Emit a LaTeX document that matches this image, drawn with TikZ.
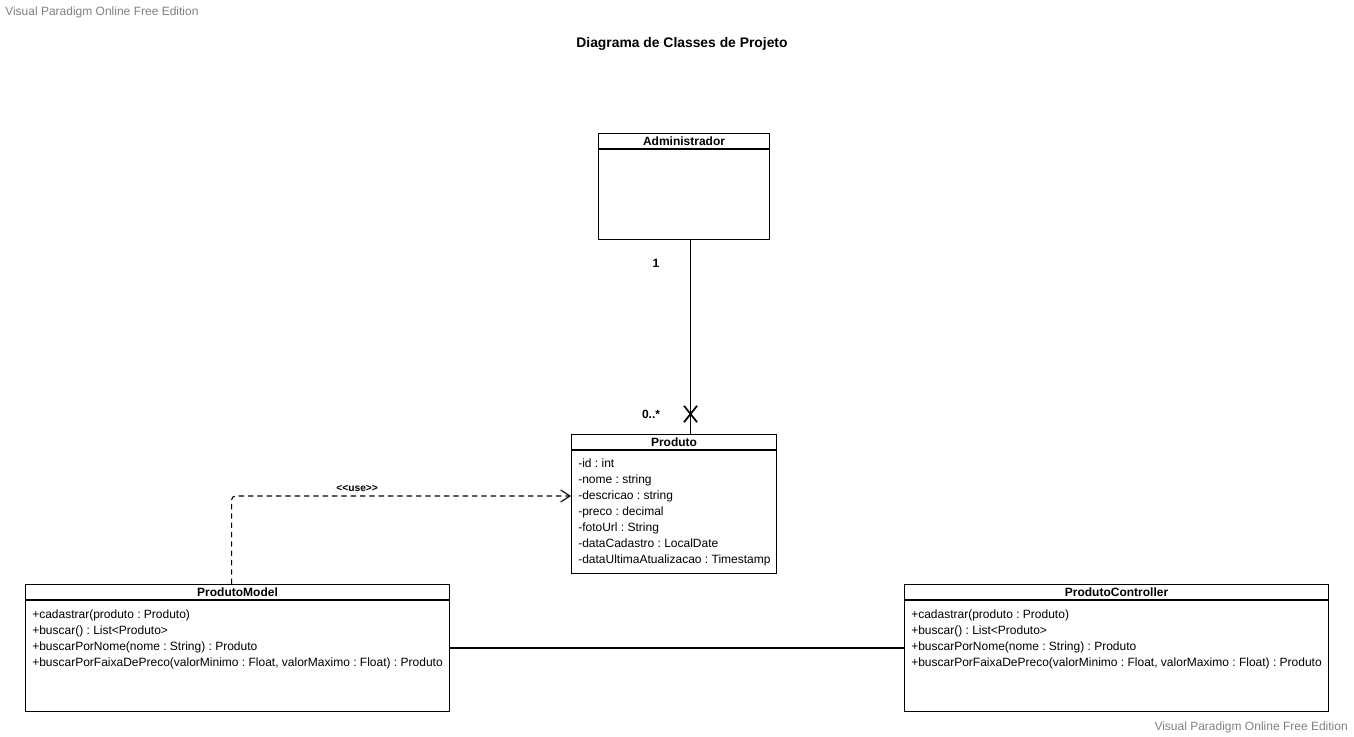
\documentclass[tikz,border=0pt]{standalone}
\usepackage{fontspec}
\setmainfont{Liberation Sans}
\usetikzlibrary{positioning,arrows.meta,shapes.misc}
\usepackage{xcolor}
\definecolor{marca}{RGB}{128,128,128}
\frenchspacing

\begin{document}
\begin{tikzpicture}
[x=0.75pt, y=-0.75pt,
% The classe style is used to draw the box of each class
classe/.style={draw, line width=0.8pt, inner sep=0pt, anchor=north west},
% The nome style is used to write the class name in the header
nome/.style={font=\bfseries\fontsize{9}{10}\selectfont, inner sep=0pt},
% The membros style is used to list attributes and methods
membros/.style={font=\frenchspacing\fontsize{9}{12}\selectfont, align=left, anchor=north west, inner sep=0pt},
mult/.style={font=\bfseries\fontsize{9}{10}\selectfont, inner sep=0pt},
marcadagua/.style={font=\fontsize{9}{11}\selectfont, text=marca, inner sep=0pt},
assoc/.style={line width=0.8pt},
dep/.style={line width=0.8pt, dash pattern=on 4pt off 3pt, rounded corners=3pt, -{Straight Barb[length=7pt, width=9pt]}}
]
\useasboundingbox (0,0) rectangle (1354,737);

% Titles
\node [marcadagua, anchor=west] (marca1) at (5,12) {Visual Paradigm Online Free Edition};
\node [marcadagua, anchor=east] (marca2) at (1348,727) {Visual Paradigm Online Free Edition};
\node [font=\bfseries\fontsize{10.4}{12}\selectfont] (titulo) at (682,44) {Diagrama de Classes de Projeto};

% Draw classes
\node [classe, minimum width=128.25pt, minimum height=79.5pt] (adm) at (598,133) {};
\node [nome] (admnome) at ([yshift=-6pt]adm.north) {Administrador};
\draw [line width=0.8pt] ([yshift=-12pt]adm.north west) -- ([yshift=-12pt]adm.north east);

\node [classe, minimum width=153.75pt, minimum height=104.25pt] (prod) at (571,434) {};
\node [nome] (prodnome) at ([yshift=-6pt]prod.north) {Produto};
\draw [line width=0.8pt] ([yshift=-12pt]prod.north west) -- ([yshift=-12pt]prod.north east);
\node [membros] (prodattr) at (578,459) {-id : int\\-nome : string\\-descricao : string\\-preco : decimal\\-fotoUrl : String\\-dataCadastro : LocalDate\\-dataUltimaAtualizacao : Timestamp};

\node [classe, minimum width=318pt, minimum height=95.25pt] (model) at (25,584) {};
\node [nome] (modelnome) at ([yshift=-6pt]model.north) {ProdutoModel};
\draw [line width=0.8pt] ([yshift=-12pt]model.north west) -- ([yshift=-12pt]model.north east);
\node [membros] (modelmet) at (32,610) {+cadastrar(produto : Produto)\\+buscar() : List\textless Produto\textgreater\\+buscarPorNome(nome : String) : Produto\\+buscarPorFaixaDePreco(valorMinimo : Float, valorMaximo : Float) : Produto};

\node [classe, minimum width=318pt, minimum height=95.25pt] (ctrl) at (904,584) {};
\node [nome] (ctrlnome) at ([yshift=-6pt]ctrl.north) {ProdutoController};
\draw [line width=0.8pt] ([yshift=-12pt]ctrl.north west) -- ([yshift=-12pt]ctrl.north east);
\node [membros] (ctrlmet) at (911,610) {+cadastrar(produto : Produto)\\+buscar() : List\textless Produto\textgreater\\+buscarPorNome(nome : String) : Produto\\+buscarPorFaixaDePreco(valorMinimo : Float, valorMaximo : Float) : Produto};

% Draw relations
\path (adm.south) ++(6.5,0) coordinate (admp);
\draw [assoc] (admp) -- (admp |- prod.north);
\path (admp |- prod.north) ++(0,-20) node [draw, cross out, line width=1.3pt, minimum width=8.5pt, minimum height=11pt, inner sep=0pt] (cruz) {};
\node [mult] (m1) at (656,263) {1};
\node [mult] (m2) at (651,414) {0..*};

\path (model.north) ++(-6,0) coordinate (modelp);
\path (prod.north west) ++(0,62) coordinate (prodp);
\draw [dep] (modelp) |- (prodp) node [pos=0.685, above=3pt, font=\bfseries\fontsize{7.7}{9}\selectfont, inner sep=0pt] (uso) {<\kern0pt<use>\kern0pt>};

\draw [assoc] (model.east) -- (ctrl.west);
\end{tikzpicture}
\end{document}
